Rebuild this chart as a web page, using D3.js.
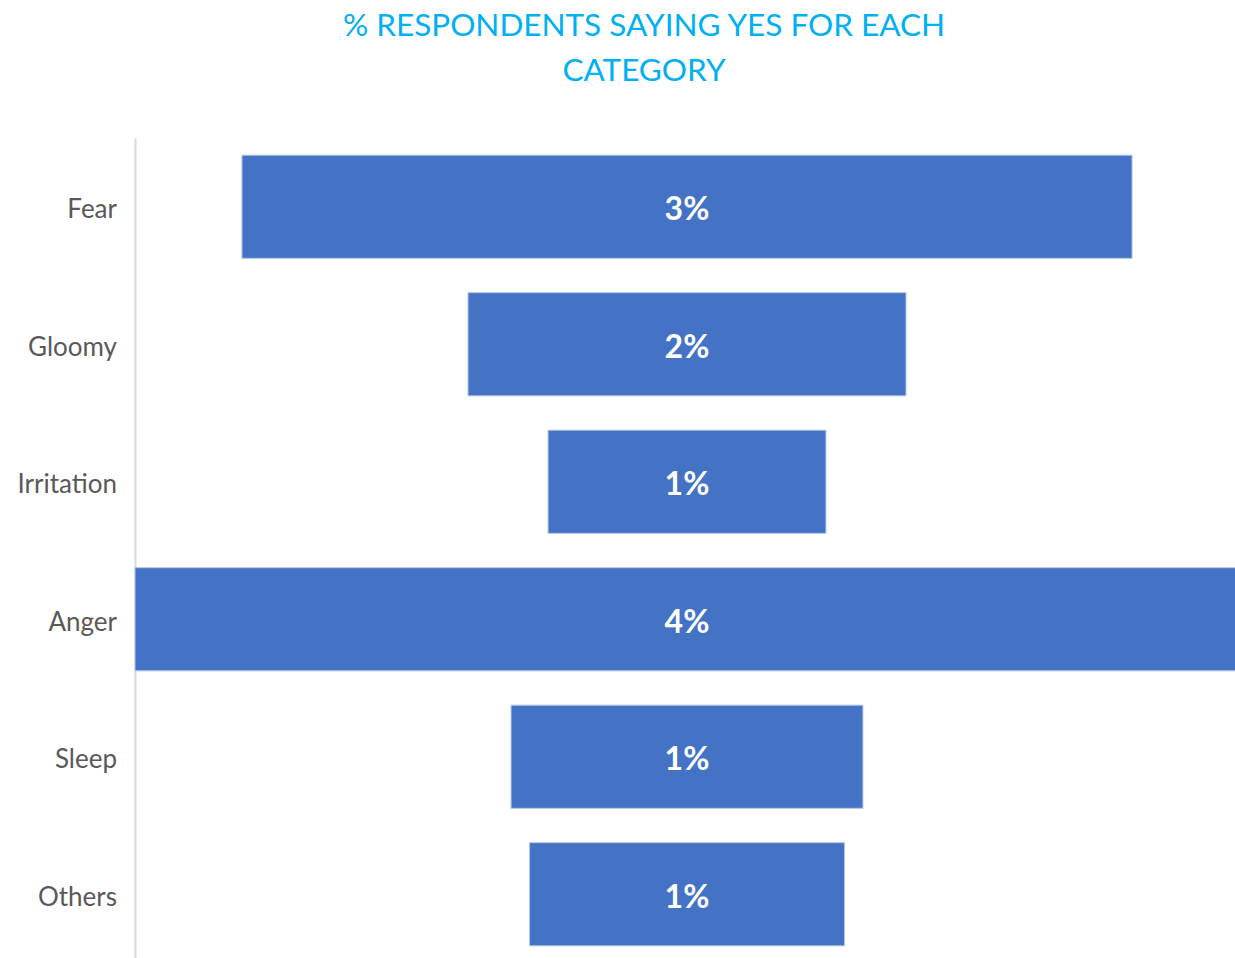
<!DOCTYPE html>
<html>
<head>
<meta charset="utf-8">
<script src="https://cdn.jsdelivr.net/npm/d3@7"></script>
<style>
  body { margin: 0; background: #fff; }
  text { font-family: Lato, "Open Sans", sans-serif; }
</style>
</head>
<body>
<div id="funnel"></div>
<script>
// data
var categories = ["Fear", "Gloomy", "Irritation", "Anger", "Sleep", "Others"];
var values = [3.225, 1.587, 1.007, 4.0, 1.275, 1.141];
var valueLabels = ["3%", "2%", "1%", "4%", "1%", "1%"];
var titleLines = ["% RESPONDENTS SAYING YES FOR EACH", "CATEGORY"];

var data = categories.map((c, i) => ({ cat: c, value: values[i], label: valueLabels[i] }));

var W = 1235, H = 958;
var margin = { top: 138, left: 135 };
var center = 687;

var svg = d3.select("#funnel")
    .append("svg")
    .attr("width", W)
    .attr("height", H);

// title
svg.append("g")
    .selectAll("text")
    .data(titleLines)
    .enter()
    .append("text")
    .attr("x", 644)
    .attr("y", (d, i) => 36 + i * 45)
    .attr("text-anchor", "middle")
    .style("font-size", "31.5px")
    .style("fill", "#00b0f0")
    .text(d => d);

// scales
var y = d3.scaleBand()
    .domain(categories)
    .range([margin.top, margin.top + 6 * 137.5])
    .paddingInner(0.25)
    .paddingOuter(0.125);

var x = d3.scaleLinear()
    .domain([0, 4.0])
    .range([0, 1104]);

// category axis on the left
var yAxis = svg.append("g")
    .attr("transform", "translate(" + margin.left + ",0)")
    .call(d3.axisLeft(y).tickSize(0).tickPadding(18));
yAxis.select(".domain").attr("stroke", "#d9d9d9").attr("stroke-width", 2);
yAxis.selectAll("text")
    .attr("dy", "0.45em")
    .style("font-size", "26px")
    .style("fill", "#595959")
    .style("font-family", "Lato, 'Open Sans', sans-serif");

// bars centred on a common axis
svg.append("g")
    .selectAll("rect")
    .data(data)
    .enter()
    .append("rect")
    .attr("x", d => center - x(d.value) / 2)
    .attr("y", d => y(d.cat))
    .attr("width", d => x(d.value))
    .attr("height", y.bandwidth())
    .style("fill", "#4472c4")
    .style("stroke", "#b4c7e7")
    .style("stroke-width", 1);

// value labels
svg.append("g")
    .selectAll("text")
    .data(data)
    .enter()
    .append("text")
    .attr("x", center)
    .attr("y", d => y(d.cat) + y.bandwidth() / 2)
    .attr("dy", "0.42em")
    .attr("text-anchor", "middle")
    .style("font-size", "32px")
    .style("font-weight", "bold")
    .style("fill", "#fff")
    .text(d => d.label);
</script>
</body>
</html>
